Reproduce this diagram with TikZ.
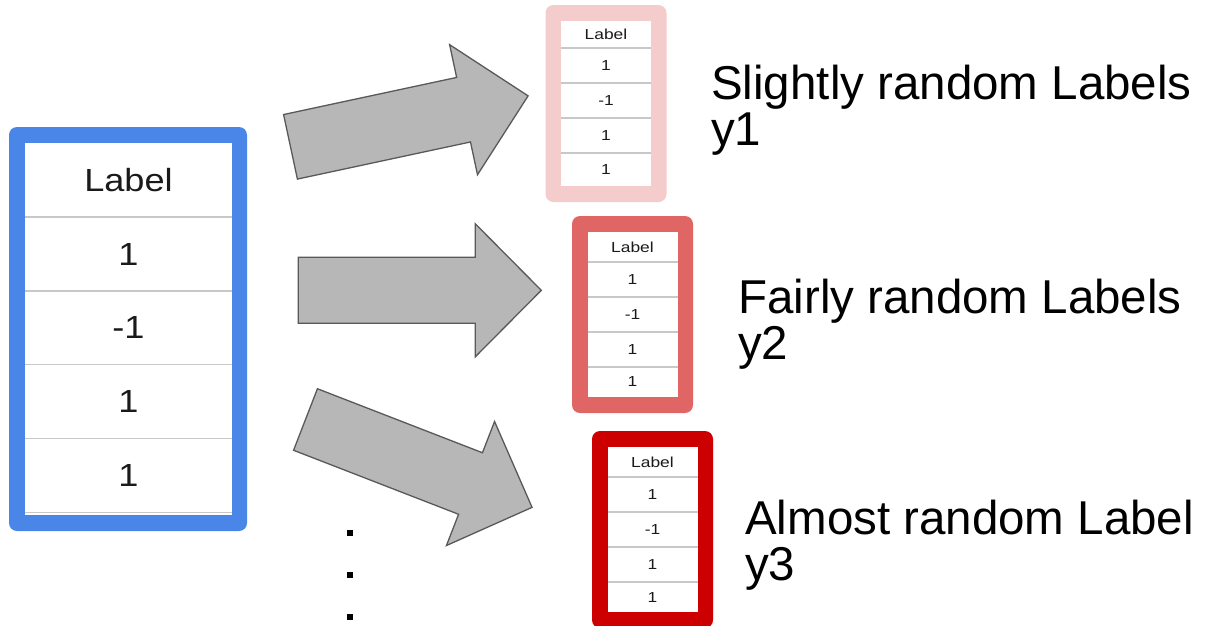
\documentclass[tikz,border=0pt]{standalone}
\usepackage{fontspec}
\setmainfont{Liberation Sans}
\newfontfamily\bigtabfont[FakeStretch=1.13]{Liberation Sans}
\newfontfamily\smalltabfont[FakeStretch=1.2]{Liberation Sans}
\definecolor{blueframe}{HTML}{4A86E8}
\definecolor{pinkframe}{HTML}{F4CCCC}
\definecolor{lightred}{HTML}{E06666}
\definecolor{darkred}{HTML}{CC0000}
\definecolor{arrowfill}{HTML}{B7B7B7}
\definecolor{arrowedge}{HTML}{595959}
\definecolor{sepgray}{HTML}{C8C8C8}
\definecolor{txt}{HTML}{1A1A1A}
\tikzset{
  frame/.style={rounded corners=8pt, inner sep=0pt, outer sep=0pt},
  innerbox/.style={fill=white, inner sep=0pt, outer sep=0pt},
  bigcell/.style={minimum width=207pt, minimum height=74pt, inner sep=0pt, outer sep=0pt,
    font={\bigtabfont\fontsize{32pt}{38pt}\selectfont}, text=txt},
  smallcell/.style={minimum width=90pt, minimum height=35pt, inner sep=0pt, outer sep=0pt,
    font={\smalltabfont\fontsize{14.5pt}{17pt}\selectfont}, text=txt},
  sep/.style={draw=sepgray, line width=1.6pt},
  blockarrow/.style={fill=arrowfill, draw=arrowedge, line width=1.3pt, line join=miter},
  caption/.style={font={\fontsize{47.5pt}{46pt}\selectfont}, anchor=base west, align=left, inner sep=0pt, text=black},
  dot/.style={rectangle, fill=black, minimum size=6pt, inner sep=0pt},
  blockarr/.pic={\draw[blockarrow] (0,33) -- (177,33) -- (177,66.5) -- (243,0)
      -- (177,-66.5) -- (177,-33) -- (0,-33) -- cycle;}
}
% #1 name, #2 centre x, #3 outer top, #4 header height, #5 frame colour
\newcommand\smalltable[5]{%
  \node[frame, fill=#5, minimum width=121pt, minimum height=197pt, anchor=north] (#1) at (#2,#3) {};
  \node[innerbox, minimum width=90pt, minimum height=165pt, anchor=north] (#1in) at (#2,#3+16) {};
  \node[smallcell, minimum height=#4pt, anchor=north] (#1h) at (#1in.north) {Label};
  \node[smallcell, anchor=north] (#1a) at (#1h.south) {1};
  \node[smallcell, anchor=north] (#1b) at (#1a.south) {-1};
  \node[smallcell, anchor=north] (#1c) at (#1b.south) {1};
  \node[smallcell, anchor=north, minimum height={(165-#4-105)*1pt}] (#1d) at (#1c.south) {1};
  \draw[sep] (#1h.south west) -- (#1h.south east);
  \draw[sep] (#1a.south west) -- (#1a.south east);
  \draw[sep] (#1b.south west) -- (#1b.south east);
  \draw[sep] (#1c.south west) -- (#1c.south east);
}
\begin{document}
\begin{tikzpicture}[x=1pt, y=-1pt]
\useasboundingbox (0,0) rectangle (1205,625);
\fill[white] (0,0) rectangle (1205,625);
% big table
\node[frame, fill=blueframe, minimum width=238pt, minimum height=404pt] (big) at (128,329) {};
\node[innerbox, minimum width=207pt, minimum height=372pt] (bigin) at (128.5,329) {};
\node[bigcell, anchor=north] (bh) at (bigin.north) {Label};
\node[bigcell, anchor=north] (ba) at (bh.south) {1};
\node[bigcell, anchor=north, minimum height=73.5pt] (bb) at (ba.south) {-1};
\node[bigcell, anchor=north] (bc) at (bb.south) {1};
\node[bigcell, anchor=north] (bd) at (bc.south) {1};
\draw[sep] (bh.south west) -- (bh.south east);
\draw[sep] (ba.south west) -- (ba.south east);
\draw[sep] (bb.south west) -- (bb.south east);
\draw[sep] (bc.south west) -- (bc.south east);
\draw[sep] (bd.south west) -- (bd.south east);
% small tables
\smalltable{ta}{606}{5}{27}{pinkframe}
\smalltable{tb}{632.5}{216}{30}{lightred}
\smalltable{tc}{652.5}{431}{30}{darkred}
% arrows
\pic[rotate=12.1] (arrA) at (290.5,146.8) {blockarr};
\pic (arrB) at (298.3,290.3) {blockarr};
\pic[rotate=-21.2] (arrC) at (305.5,419.5) {blockarr};
% dots
\node[dot] (d1) at (350,533) {};
\node[dot] (d2) at (350,575) {};
\node[dot] (d3) at (350,617) {};
% captions (anchor = baseline of the last line)
\node[caption] (capA) at (711,145) {Slightly random Labels\\y1};
\node[caption] (capB) at (738,359) {Fairly random Labels\\y2};
\node[caption] (capC) at (745,580) {Almost random Label\\y3};
\end{tikzpicture}
\end{document}
